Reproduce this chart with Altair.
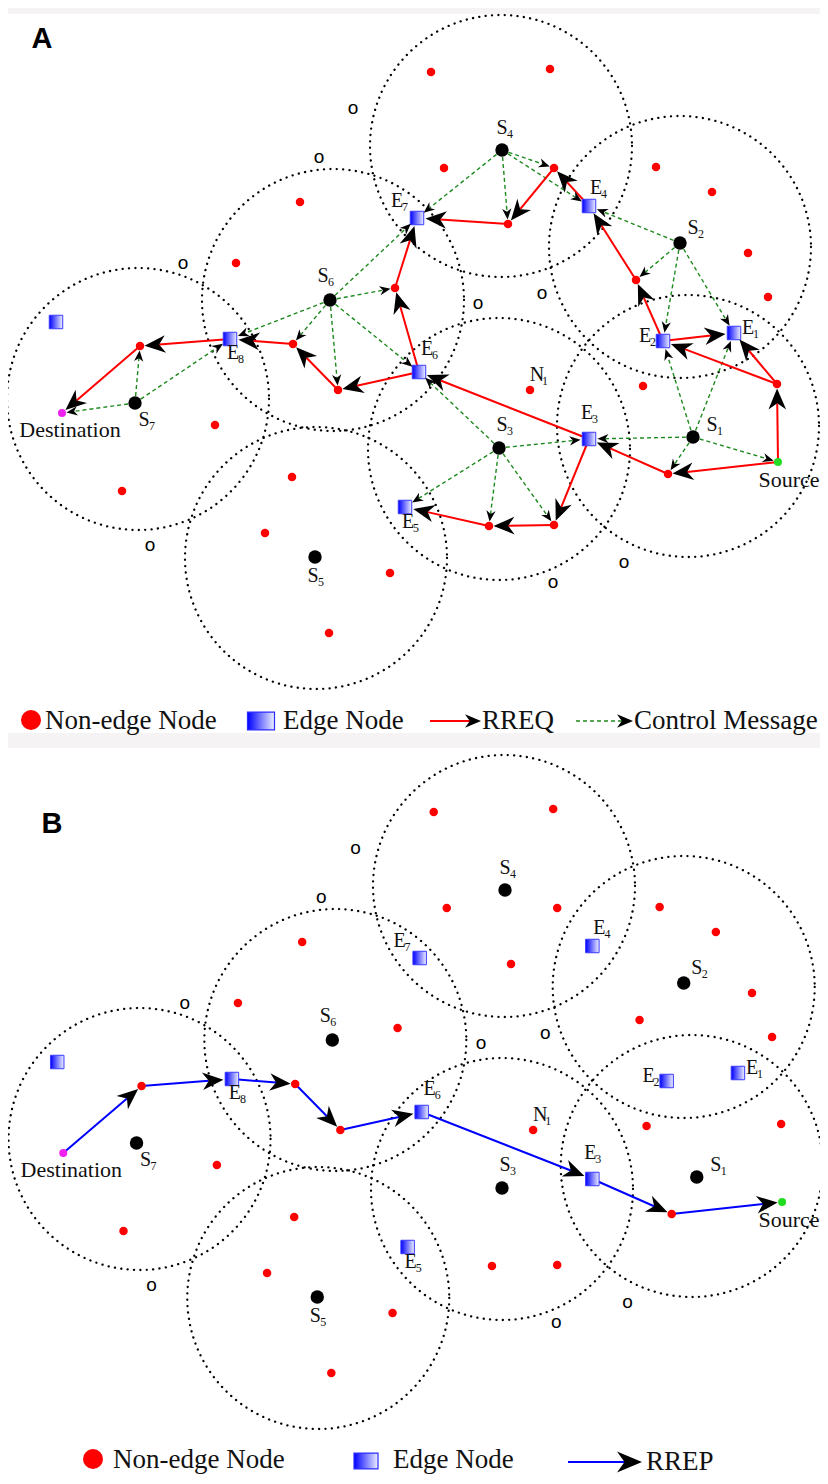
import math
import altair as alt
import pandas as pd

# ---------------- data: node positions (pixels) ----------------
node_id = ["Src", "Dst",
           "S1", "S2", "S3", "S4", "S5", "S6", "S7",
           "E1", "E2", "E3", "E4", "E5", "E6", "E7", "E8", "E0",
           "a1", "a2", "a3", "a4", "a5", "b1", "b2", "b3", "b4", "b5",
           "c1", "c2", "c3", "c4", "c5", "d1", "d2", "d3",
           "N1", "e1", "e2", "e3", "f1", "f2", "f3", "f4", "g1", "g2"]
node_type = ["src", "dst"] + ["sink"] * 7 + ["edge"] * 9 + ["red"] * 28
node_x = [778, 62, 693, 680, 499, 502, 315, 330, 135,
          734, 663, 589, 589, 405, 419, 417, 230, 56,
          431, 550, 444, 554, 508, 656, 712, 748, 768, 636,
          300, 236, 395, 293, 338, 140, 215, 122,
          530, 643, 777, 668, 292, 265, 390, 329, 489, 554]
node_y = [462, 413, 437, 243, 448, 150, 557, 300, 403,
          333, 341, 439, 206, 507, 372, 218, 339, 322,
          72, 69, 168, 168, 224, 167, 192, 253, 297, 280,
          202, 263, 288, 344, 390, 346, 425, 491,
          390, 386, 384, 474, 477, 533, 573, 633, 526, 525]

# transmission ranges (dotted circles)
range_x = [688, 680, 499, 501, 316, 333, 138]
range_y = [426, 247, 449, 146, 558, 300, 399]
range_r = [131, 131, 131, 131, 131, 131, 131]

# RREQ hops (panel A)
rreq_from = ["Src", "e2", "e2", "E2", "E2", "b5", "E4", "a4", "a5", "c3", "E6",
             "E6", "c5", "c4", "E8", "d1", "E3", "e3", "Src", "E3", "g2", "g1"]
rreq_to = ["e2", "E1", "E2", "E1", "b5", "E4", "a4", "a5", "E7", "E7", "c3",
           "c5", "c4", "E8", "d1", "Dst", "E6", "E3", "e3", "g2", "g1", "E5"]

# control messages (panel A)
ctrl_from = ["S1"] * 5 + ["S2"] * 4 + ["S4"] * 4 + ["S6"] * 6 + ["S3"] * 5 + ["S7"] * 3
ctrl_to = ["E3", "e3", "Src", "E2", "E1",
           "E4", "b5", "E2", "E1",
           "E7", "a5", "a4", "E4",
           "E7", "c3", "E8", "c4", "c5", "E6",
           "E6", "E3", "E5", "g1", "g2",
           "d1", "E8", "Dst"]

# RREP hops (panel B)
rrep_from = ["Dst", "d1", "E8", "c4", "c5", "E6", "E3", "e3"]
rrep_to = ["d1", "E8", "c4", "c5", "E6", "E3", "e3", "Src"]

# node labels (letter + subscript)
lab_base = ["S", "S", "S", "S", "S", "S", "S", "E", "E", "E", "E", "E", "E", "E", "E", "N"]
lab_sub = ["1", "2", "3", "4", "5", "6", "7", "1", "2", "3", "4", "5", "6", "7", "8", "1"]
lab_x = [712, 693, 502, 502, 313, 323, 144, 748, 645, 587, 596, 408, 427, 397, 233, 537]
lab_y = [425, 228, 425, 128, 576, 276, 420, 328, 336, 413, 188, 522, 349, 201, 353, 375]

word_text = ["Destination", "Source"]
word_x = [70, 789]
word_y = [430, 480]

o_x = [353, 319, 183, 478, 542, 150, 553, 624]
o_y = [108, 157, 263, 303, 293, 545, 582, 562]

# legend entries
leg_text = ["Non-edge Node", "Edge Node", "RREQ", "Control Message",
            "Non-edge Node", "Edge Node", "RREP"]
leg_text_x = [45, 283, 482, 634, 113, 393, 646]
leg_text_y = [721, 721, 721, 721, 1460, 1460, 1462]

# ---------------- geometry helpers ----------------
def place(x, y, panel):
    if panel == "A":
        return x, y
    return x * 1.004 + 1, y + 740

pos = {n: (x, y) for n, x, y in zip(node_id, node_x, node_y)}
ntype = dict(zip(node_id, node_type))
OFF = {"red": 4.5, "edge": 8.5, "src": 4.5, "dst": 4.5, "sink": 7}

def hops(frm, to, kind, L, panel):
    rows = []
    for a, b in zip(frm, to):
        x1, y1 = place(*pos[a], panel)
        x2, y2 = place(*pos[b], panel)
        dx, dy = x2 - x1, y2 - y1
        d = math.hypot(dx, dy)
        ux, uy = dx / d, dy / d
        off = OFF[ntype[b]]
        tx, ty = x2 - ux * off, y2 - uy * off
        rows.append(dict(x=x1, y=y1, x2=tx - ux * 0.7 * L, y2=ty - uy * 0.7 * L,
                         tx=tx, ty=ty, angle=math.degrees(math.atan2(dy, dx)) % 360,
                         sz=(2 * L) ** 2, kind=kind))
    return rows

nodes = []
circles = []
labels = []
words = []
os_ = []
for p in ["A", "B"]:
    for n, t, x, y in zip(node_id, node_type, node_x, node_y):
        px, py = place(x, y, p)
        nodes.append(dict(id=n, type=t, x=px, y=py))
    for x, y, r in zip(range_x, range_y, range_r):
        px, py = place(x, y, p)
        circles.append(dict(x=px, y=py, sz=(2 * r) ** 2))
    for b, s, x, y in zip(lab_base, lab_sub, lab_x, lab_y):
        px, py = place(x, y, p)
        labels.append(dict(base=b, sub=s, x=px, y=py))
    for t, x, y in zip(word_text, word_x, word_y):
        px, py = place(x, y, p)
        words.append(dict(t=t, x=min(px, 789), y=py))
    for x, y in zip(o_x, o_y):
        px, py = place(x, y, p)
        os_.append(dict(x=px, y=py))

edges = (hops(rreq_from, rreq_to, "rreq", 21, "A")
         + hops(ctrl_from, ctrl_to, "ctrl", 11, "A")
         + hops(rrep_from, rrep_to, "rrep", 21, "B"))

nodes = pd.DataFrame(nodes)
circles = pd.DataFrame(circles)
labels = pd.DataFrame(labels)
words = pd.DataFrame(words)
os_ = pd.DataFrame(os_)
edges = pd.DataFrame(edges)

legend_txt = pd.DataFrame(dict(t=leg_text, x=leg_text_x, y=leg_text_y))
legend_dot = pd.DataFrame(dict(x=[31, 93], y=[720, 1459]))
legend_sq = pd.DataFrame(dict(x=[261, 366], y=[721, 1461], sz=[27 ** 2, 24 ** 2]))
legend_line = pd.DataFrame(dict(x=[430, 576, 568], x2=[470, 622, 628], y=[721, 721, 1462],
                                kind=["rreq", "ctrl", "rrep"]))
legend_arrow = pd.DataFrame(dict(tx=[481, 633, 642], ty=[721, 721, 1462], angle=[0, 0, 0],
                                 sz=[32 ** 2, 32 ** 2, 50 ** 2]))
panel_letters = pd.DataFrame(dict(t=["A", "B"], x=[42, 52], y=[39, 824]))
bands = pd.DataFrame(dict(x=[8, 8], x2=[820, 820], y=[8, 733], y2=[14, 748]))

# ---------------- encodings ----------------
xs = alt.Scale(domain=[8, 820], nice=False, zero=False)
ys = alt.Scale(domain=[8, 1476], nice=False, zero=False, reverse=True)

def X(f):
    return alt.X(f, type="quantitative", scale=xs, axis=None)

def Y(f):
    return alt.Y(f, type="quantitative", scale=ys, axis=None)

ARROW = "M0,0 L-1,-0.42 L-0.7,0 L-1,0.42 Z"
LEGSQ = "M-1,-0.66 L1,-0.66 L1,0.66 L-1,0.66 Z"
grad = alt.LinearGradient(gradient="linear",
                          stops=[alt.GradientStop(color="#0000ff", offset=0),
                                 alt.GradientStop(color="#eef0ff", offset=1)],
                          x1=0, x2=1, y1=0, y2=0)
SERIF = "Liberation Serif"
SANS = "Liberation Sans"

band_l = alt.Chart(bands).mark_rect(color="#f5f3f3").encode(
    x=X("x"), x2="x2", y=Y("y"), y2="y2")

circle_l = alt.Chart(circles).mark_point(
    shape="circle", filled=False, stroke="black", strokeWidth=2.3, opacity=1,
    strokeDash=[0.1, 6.3], strokeCap="round").encode(
    x=X("x"), y=Y("y"), size=alt.Size("sz:Q", scale=None))

def rule_layer(df, kind, **kw):
    return alt.Chart(df).transform_filter(alt.datum.kind == kind).mark_rule(**kw).encode(
        x=X("x"), y=Y("y"), x2="x2", y2="y2")

ctrl_l = rule_layer(edges, "ctrl", color="#1e8a1e", strokeWidth=1.4, strokeDash=[4, 3])
rreq_l = rule_layer(edges, "rreq", color="#ff0000", strokeWidth=2)
rrep_l = rule_layer(edges, "rrep", color="#0000ff", strokeWidth=2)

arrow_l = alt.Chart(edges).mark_point(shape=ARROW, filled=True, color="black",
                                      opacity=1, strokeWidth=0).encode(
    x=X("tx"), y=Y("ty"), angle=alt.Angle("angle:Q", scale=None),
    size=alt.Size("sz:Q", scale=None))

red_l = alt.Chart(nodes).transform_filter(alt.datum.type == "red").mark_point(
    shape="circle", filled=True, color="#ff0000", size=72, opacity=1).encode(x=X("x"), y=Y("y"))
sink_l = alt.Chart(nodes).transform_filter(alt.datum.type == "sink").mark_point(
    shape="circle", filled=True, color="black", size=180, opacity=1).encode(x=X("x"), y=Y("y"))
src_l = alt.Chart(nodes).transform_filter(alt.datum.type == "src").mark_point(
    shape="circle", filled=True, color="#22dd22", size=64, opacity=1).encode(x=X("x"), y=Y("y"))
dst_l = alt.Chart(nodes).transform_filter(alt.datum.type == "dst").mark_point(
    shape="circle", filled=True, color="#ee22ee", size=64, opacity=1).encode(x=X("x"), y=Y("y"))
edge_l = alt.Chart(nodes).transform_filter(alt.datum.type == "edge").mark_point(
    shape="square", filled=True, fill=grad, stroke="#3a3aff", strokeWidth=1,
    size=182, opacity=1).encode(x=X("x"), y=Y("y"))

base_t = alt.Chart(labels).mark_text(font=SERIF, fontSize=20, align="center",
                                     baseline="middle", color="#111").encode(
    x=X("x"), y=Y("y"), text="base:N")
sub_t = alt.Chart(labels).mark_text(font=SERIF, fontSize=12, align="left",
                                    baseline="middle", dx=5, dy=6, color="#111").encode(
    x=X("x"), y=Y("y"), text="sub:N")
word_t = alt.Chart(words).mark_text(font=SERIF, fontSize=22, align="center",
                                    baseline="middle", color="#111").encode(
    x=X("x"), y=Y("y"), text="t:N")
o_t = alt.Chart(os_).mark_text(font=SANS, fontSize=19, align="center",
                               baseline="middle", color="black", text="o").encode(
    x=X("x"), y=Y("y"))
letter_t = alt.Chart(panel_letters).mark_text(font=SANS, fontSize=29, fontWeight="bold",
                                              align="center", baseline="middle",
                                              color="black").encode(
    x=X("x"), y=Y("y"), text="t:N")

leg_t = alt.Chart(legend_txt).mark_text(font=SERIF, fontSize=27, align="left",
                                        baseline="middle", color="#111").encode(
    x=X("x"), y=Y("y"), text="t:N")
leg_dot = alt.Chart(legend_dot).mark_point(shape="circle", filled=True, color="#ff0000",
                                           size=400, opacity=1).encode(x=X("x"), y=Y("y"))
leg_sq = alt.Chart(legend_sq).mark_point(shape=LEGSQ, filled=True, fill=grad,
                                         stroke="#2a2aff", strokeWidth=1.2, opacity=1).encode(
    x=X("x"), y=Y("y"), size=alt.Size("sz:Q", scale=None))
leg_red = alt.Chart(legend_line).transform_filter(alt.datum.kind == "rreq").mark_rule(
    color="#ff0000", strokeWidth=2).encode(x=X("x"), x2="x2", y=Y("y"))
leg_green = alt.Chart(legend_line).transform_filter(alt.datum.kind == "ctrl").mark_rule(
    color="#1e8a1e", strokeWidth=1.4, strokeDash=[4, 3]).encode(x=X("x"), x2="x2", y=Y("y"))
leg_blue = alt.Chart(legend_line).transform_filter(alt.datum.kind == "rrep").mark_rule(
    color="#0000ff", strokeWidth=2).encode(x=X("x"), x2="x2", y=Y("y"))
leg_arrow = alt.Chart(legend_arrow).mark_point(shape=ARROW, filled=True, color="black",
                                               opacity=1, strokeWidth=0).encode(
    x=X("tx"), y=Y("ty"), angle=alt.Angle("angle:Q", scale=None),
    size=alt.Size("sz:Q", scale=None))

chart = alt.layer(
    band_l, circle_l, ctrl_l, rreq_l, rrep_l,
    red_l, sink_l, src_l, dst_l, edge_l, arrow_l,
    base_t, sub_t, word_t, o_t, letter_t,
    leg_red, leg_green, leg_blue, leg_arrow, leg_dot, leg_sq, leg_t,
).properties(width=812, height=1468, padding=0, autosize="none",
             background="white").configure_view(stroke=None)

chart.save("out.html", embed_options={"renderer": "svg", "actions": False})
